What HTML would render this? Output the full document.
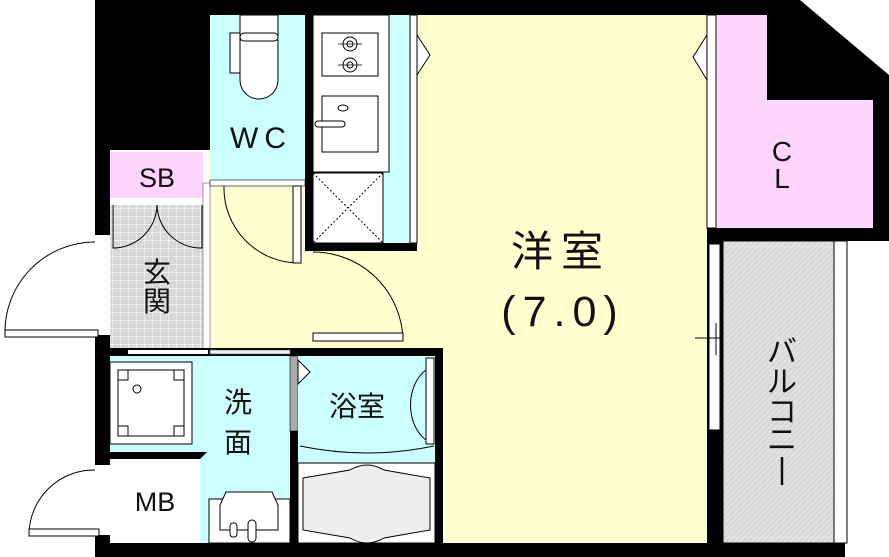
<!DOCTYPE html>
<html><head><meta charset="utf-8"><style>
html,body{margin:0;padding:0;background:#fff}
svg{display:block}
text{font-family:"Liberation Sans","Noto Sans CJK JP",sans-serif;fill:#111}
</style></head><body>
<svg width="889" height="557" viewBox="0 0 889 557" xmlns="http://www.w3.org/2000/svg">
<defs>
<pattern id="tile" width="8" height="8" patternUnits="userSpaceOnUse"><rect width="8" height="8" fill="#d8d8d8"/><path d="M0 0H8M0 0V8" stroke="#fff" stroke-width="1"/></pattern>
<pattern id="hatch" width="4" height="4" patternUnits="userSpaceOnUse" patternTransform="rotate(45)"><rect width="4" height="4" fill="#e0e0e0"/><path d="M0 0V4" stroke="#c4c4c4" stroke-width="1"/></pattern>
</defs>
<rect x="208" y="12" width="500" height="534" fill="#ffffd0"/>
<polygon points="95,0 800,0 889,75 889,241 707,241 707,228 873,228 873,100 767,100 767,15 95,15" fill="#000"/>
<rect x="95" y="0" width="115" height="150" fill="#000"/>
<rect x="95" y="0" width="15" height="557" fill="#000"/>
<rect x="95" y="543" width="750" height="14" fill="#000"/>
<polygon points="717,15 767,15 767,100 873,100 873,228 717,228" fill="#ffd4ff"/>
<rect x="707" y="15" width="9" height="213" fill="#fff" stroke="#000" stroke-width="1"/>
<rect x="707" y="241" width="16" height="302" fill="#000"/>
<rect x="709" y="244" width="11" height="186" fill="#fff" stroke="#000" stroke-width="1"/>
<line x1="695" y1="338" x2="738" y2="338" stroke="#000"/><line x1="716" y1="323" x2="716" y2="355" stroke="#000"/>
<rect x="723" y="241" width="111" height="302" fill="url(#hatch)" stroke="#000"/>
<rect x="834" y="241" width="13" height="302" fill="#fff" stroke="#000"/>
<rect x="210" y="15" width="95" height="165" fill="#ccffff"/>
<rect x="240" y="15" width="38" height="20" fill="#fff" stroke="#000"/>
<rect x="230" y="33" width="10" height="40" fill="#fff" stroke="#000"/>
<path d="M240 40 V80 A19 19 0 0 0 278 80 V40 Z" fill="#fff" stroke="#000"/>
<rect x="240" y="33" width="38" height="8" rx="4" fill="#fff" stroke="#000"/>
<rect x="305" y="15" width="8" height="235" fill="#000"/>
<rect x="313" y="15" width="97" height="228" fill="#ccffff"/>
<rect x="313" y="15" width="76" height="157" fill="#fff" stroke="#000"/>
<rect x="322" y="33" width="56" height="43" fill="#fff" stroke="#000"/>
<circle cx="350" cy="44" r="7" fill="none" stroke="#000"/><circle cx="350" cy="44" r="3" fill="none" stroke="#000"/>
<circle cx="350" cy="65" r="7" fill="none" stroke="#000"/><circle cx="350" cy="65" r="3" fill="none" stroke="#000"/>
<path d="M338 44H362M338 65H362" stroke="#000" stroke-width=".8"/>
<rect x="322" y="96" width="56" height="56" fill="#fff" stroke="#000"/>
<ellipse cx="343" cy="108" rx="5" ry="3" fill="#fff" stroke="#000"/>
<rect x="315" y="121" width="30" height="6" rx="3" fill="#fff" stroke="#000"/>
<rect x="313" y="173" width="70" height="70" fill="#fff" stroke="#000"/>
<path d="M313 173L383 243M383 173L313 243" stroke="#000" stroke-dasharray="2,2"/>
<rect x="410" y="15" width="7" height="228" fill="#fff" stroke="#000"/>
<rect x="305" y="243" width="112" height="8" fill="#000"/>
<polygon points="417,35 430,55 417,75" fill="#fff" stroke="#000"/>
<polygon points="707,35 693,57 707,80" fill="#fff" stroke="#000"/>
<rect x="110" y="152" width="93" height="46" fill="#ffd4ff"/>
<rect x="110" y="198" width="98" height="150" fill="url(#tile)"/>
<path d="M113 205V248A44 44 0 0 0 157 205M202 205V248A44 44 0 0 1 157 205" fill="none" stroke="#000"/>
<rect x="110" y="198" width="98" height="7" fill="#fff"/>
<rect x="203" y="183" width="7" height="167" fill="#fff" stroke="#999"/>
<rect x="210" y="180" width="95" height="6" fill="#fff" stroke="#000" stroke-width=".6"/>
<path d="M224 186A75 75 0 0 0 298 263" fill="none" stroke="#000"/>
<rect x="293" y="186" width="8" height="77" fill="#fff" stroke="#000"/>
<path d="M313 252A90 90 0 0 1 403 340" fill="none" stroke="#000"/>
<rect x="313" y="333" width="90" height="8" fill="#fff" stroke="#000"/>
<path d="M95 242A90 90 0 0 0 5 335" fill="none" stroke="#000"/>
<rect x="95" y="235" width="15" height="100" fill="#fff"/>
<rect x="5" y="330" width="93" height="7" fill="#fff" stroke="#000"/>
<rect x="95" y="348" width="348" height="8" fill="#000"/>
<rect x="128" y="350" width="80" height="4" fill="#fff"/>
<rect x="210" y="350" width="80" height="4" fill="#eee" stroke="#666" stroke-width=".6"/>
<rect x="110" y="356" width="180" height="187" fill="#ccffff"/>
<rect x="110" y="362" width="82" height="82" fill="#fff" stroke="#000"/>
<rect x="118" y="370" width="66" height="66" fill="#fff" stroke="#000"/>
<rect x="118" y="370" width="10" height="10" fill="#fff" stroke="#000"/><rect x="174" y="370" width="10" height="10" fill="#fff" stroke="#000"/>
<rect x="118" y="426" width="10" height="10" fill="#fff" stroke="#000"/><rect x="174" y="426" width="10" height="10" fill="#fff" stroke="#000"/>
<circle cx="137" cy="389" r="4" fill="#fff" stroke="#000"/>
<polygon points="110,452 207,452 200,459 200,543 110,543" fill="#000"/>
<rect x="110" y="459" width="90" height="84" fill="#fff"/>
<rect x="95" y="465" width="15" height="70" fill="#fff"/>
<path d="M95 470A65 65 0 0 0 29 533" fill="none" stroke="#000"/>
<rect x="29" y="529" width="70" height="7" fill="#fff" stroke="#000"/>
<rect x="209" y="499" width="81" height="44" fill="#fff" stroke="#000"/>
<path d="M220 505L226 492H272L278 505V530H220Z" fill="#fff" stroke="#000"/>
<rect x="230" y="523" width="7" height="14" rx="3" fill="#fff" stroke="#000"/>
<rect x="248" y="520" width="8" height="22" rx="4" fill="#fff" stroke="#000"/>
<rect x="290" y="356" width="8" height="187" fill="#000"/>
<rect x="290" y="356" width="8" height="75" fill="#aaa" stroke="#000" stroke-width=".6"/>
<rect x="298" y="356" width="137" height="107" fill="#ccffff"/>
<polygon points="298,360 310,372 298,384" fill="#fff" stroke="#000"/>
<path d="M300 446Q367 460 434 446" fill="none" stroke="#000"/>
<rect x="426" y="358" width="8" height="86" fill="#fff" stroke="#000"/>
<path d="M426 370A30 40 0 0 0 426 440" fill="none" stroke="#000"/>
<rect x="298" y="463" width="137" height="80" fill="#fff" stroke="#000"/>
<path d="M303 478L350 470Q367 460 384 470L430 478V530L384 538Q367 548 350 538L303 530Z" fill="#eee" stroke="#000"/>
<rect x="435" y="348" width="8" height="195" fill="#000"/>
<text x="561" y="266" font-size="42" text-anchor="middle" letter-spacing="8">洋室</text>
<text x="563" y="326" font-size="43" text-anchor="middle" letter-spacing="7">(7.0)</text>
<text x="261" y="148" font-size="30" text-anchor="middle" letter-spacing="6">WC</text>
<text x="157" y="187" font-size="27" text-anchor="middle">SB</text>
<text x="157" y="282" font-size="28" text-anchor="middle">玄</text>
<text x="157" y="311" font-size="28" text-anchor="middle">関</text>
<text x="238" y="412" font-size="28" text-anchor="middle">洗</text>
<text x="238" y="452" font-size="28" text-anchor="middle">面</text>
<text x="357" y="416" font-size="28" text-anchor="middle">浴室</text>
<text x="155" y="511" font-size="27" text-anchor="middle">MB</text>
<text x="782" y="161" font-size="28" text-anchor="middle">C</text>
<text x="782" y="188" font-size="28" text-anchor="middle">L</text>
<text x="782" y="362" font-size="30" text-anchor="middle">バ</text>
<text x="782" y="392" font-size="30" text-anchor="middle">ル</text>
<text x="782" y="422" font-size="30" text-anchor="middle">コ</text>
<text x="782" y="450" font-size="30" text-anchor="middle">ニ</text>
<line x1="782" y1="457" x2="782" y2="485" stroke="#111" stroke-width="2.5"/>
</svg>
</body></html>
